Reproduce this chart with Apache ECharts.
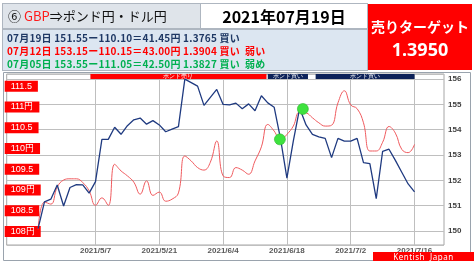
<!DOCTYPE html>
<html><head><meta charset="utf-8">
<script src="https://cdn.jsdelivr.net/npm/echarts@6/dist/echarts.min.js"></script>
<style>
html,body{margin:0;padding:0;width:474px;height:265px;overflow:hidden;background:#fff;font-family:"Noto Sans CJK JP","Noto Sans",sans-serif;}
#chart{position:absolute;left:0;top:0;width:474px;height:265px;}
.abs{position:absolute;box-sizing:border-box;white-space:nowrap;}
.row{position:absolute;left:7px;font-size:10px;font-weight:bold;line-height:13px;letter-spacing:0.2px;white-space:nowrap;}
</style></head><body>
<div id="chart"></div>
<div class="abs" style="left:2px;top:3px;width:199px;height:26px;background:#dfe4ea;border:1px solid #aeb6c0;"></div>
<div class="abs" style="left:8px;top:5px;font-size:13px;line-height:22px;color:#111;">⑥ <span style="color:#ff1a1a;">GBP</span>⇒ポンド円・ドル円</div>
<div class="abs" style="left:200px;top:3px;width:168px;height:26px;background:#fff;border:1px solid #aeb6c0;text-align:center;font-size:16px;font-weight:bold;line-height:24px;color:#000;">2021年07月19日</div>
<div class="abs" style="left:2px;top:29px;width:366px;height:42px;background:#dce6f1;border:1px solid #aeb6c0;"></div>
<div class="row" style="top:31px;color:#1f3864;">07月19日 151.55ー110.10＝41.45円 1.3765 買い</div>
<div class="row" style="top:44px;color:#ff0000;">07月12日 153.15ー110.15＝43.00円 1.3904 買い</div>
<div class="row" style="top:57px;color:#00b050;">07月05日 153.55ー111.05＝42.50円 1.3827 買い</div>
<div class="row" style="top:44px;left:245px;color:#ff0000;">弱い</div>
<div class="row" style="top:57px;left:245px;color:#00b050;">弱め</div>
<div class="abs" style="left:368px;top:4px;width:104px;height:66px;background:#ff0000;color:#fff;text-align:center;font-weight:bold;">
  <div style="font-size:14px;line-height:18px;margin-top:13px;">売りターゲット</div>
  <div style="font-size:18px;line-height:22px;margin-top:3px;font-family:'Noto Sans',sans-serif;">1.3950</div>
</div>
<div class="abs" style="left:373px;top:252px;width:101px;height:9px;background:#ff0000;color:#fff;font-size:8px;line-height:9px;text-align:center;font-family:'Noto Sans',sans-serif;letter-spacing:0.5px;">Kentish&nbsp;&nbsp;Japan</div>
<script>
const dates = [
 '2021/4/26','2021/4/27','2021/4/28','2021/4/29','2021/4/30',
 '2021/5/3','2021/5/4','2021/5/5','2021/5/6','2021/5/7',
 '2021/5/10','2021/5/11','2021/5/12','2021/5/13','2021/5/14',
 '2021/5/17','2021/5/18','2021/5/19','2021/5/20','2021/5/21',
 '2021/5/24','2021/5/25','2021/5/26','2021/5/27','2021/5/28',
 '2021/5/31','2021/6/1','2021/6/2','2021/6/3','2021/6/4',
 '2021/6/7','2021/6/8','2021/6/9','2021/6/10','2021/6/11',
 '2021/6/14','2021/6/15','2021/6/16','2021/6/17','2021/6/18',
 '2021/6/21','2021/6/22','2021/6/23','2021/6/24','2021/6/25',
 '2021/6/28','2021/6/29','2021/6/30','2021/7/1','2021/7/2',
 '2021/7/5','2021/7/6','2021/7/7','2021/7/8','2021/7/9',
 '2021/7/12','2021/7/13','2021/7/14','2021/7/15','2021/7/16'
];
// GBP/JPY (right axis, navy line)
const gbpjpy = [
 150.10,151.15,151.26,151.82,150.99,151.72,151.83,151.82,151.50,151.95,
 153.62,153.62,154.10,153.82,154.16,154.39,154.46,154.22,154.36,154.19,
 153.92,154.02,154.12,156.00,155.86,155.72,154.96,155.28,155.59,155.00,
 154.98,155.05,154.83,155.02,154.75,155.34,155.06,154.89,153.64,152.09,
 153.55,154.85,154.19,153.82,153.72,153.66,152.90,153.66,153.55,153.55,
 153.66,152.70,152.66,151.28,153.15,153.23,152.79,152.32,151.86,151.55
];
// USD/JPY (left labels, red line)
const usdjpy = [
 108.05,108.71,108.66,109.07,109.24,109.27,109.27,109.18,108.98,108.63,
 108.81,108.63,109.62,109.46,109.34,109.19,108.90,109.22,108.87,108.95,
 108.73,108.78,108.93,109.82,109.70,109.54,109.48,109.67,110.18,109.34,
 109.30,109.54,109.48,109.38,109.70,110.04,110.58,110.42,110.20,110.34,
 110.54,110.88,110.86,110.74,110.62,110.54,110.56,111.10,111.39,111.05,
 110.96,110.62,109.94,109.94,110.15,110.53,110.37,109.98,109.90,110.10
];
const xTickIdx = [9, 19, 29, 39, 49, 59];
const crossDots = [[37.9, 153.62], [41.5, 154.82]];
const bandSell = [{name: 'ポンド売り', from: 8.2, to: 35.8}];
const bandBuy = [{name: 'ポンド買い', from: 36.0, to: 42.3}, {name: 'ポンド買い', from: 43.5, to: 59.0}];

const chart = echarts.init(document.getElementById('chart'), null, {renderer: 'canvas'});
const bandItem = (b, color) => [
  {xAxis: b.from, yAxis: 156, name: b.name, itemStyle: {color: color, opacity: 1},
   label: {show: true, position: 'inside', color: '#fff', fontSize: 6, formatter: b.name}},
  {xAxis: b.to, yAxis: 156.2}
];
chart.setOption({
  animation: false,
  graphic: [{type: 'rect', shape: {x: 3.5, y: 72.5, width: 467, height: 188}, style: {fill: 'none', stroke: '#9aa3ad', lineWidth: 1}, z: -1}],
  grid: {left: 6.7, right: 30, top: 74, bottom: 20, show: true, borderColor: '#a6a6a6', borderWidth: 1, containLabel: false},
  xAxis: {
    type: 'value', min: -4.92, max: 63.62,
    axisLine: {show: false},
    axisTick: {show: false, customValues: xTickIdx},
    axisLabel: {customValues: xTickIdx, formatter: v => dates[Math.round(v)] || '', fontSize: 8, fontWeight: 'bold', color: '#595959', margin: 2},
    splitLine: {show: true, lineStyle: {color: '#bfbfbf', width: 1}}
  },
  yAxis: [
    {type: 'value', position: 'left', min: 107.675, max: 111.795, splitNumber: 8,
     axisLine: {show: false}, axisTick: {show: false}, splitLine: {show: false},
     axisLabel: {inside: true, margin: -2, showMinLabel: false, showMaxLabel: false,
       formatter: v => (Math.abs(v - Math.round(v)) < 1e-6 ? Math.round(v) + '円' : v.toFixed(1)),
       color: '#fff', backgroundColor: '#ff0000', fontSize: 9, lineHeight: 11, padding: [0, 6, 0, 6], z: 10}},
    {type: 'value', position: 'right', min: 149.45, max: 156.2, splitNumber: 7,
     axisLine: {show: false}, axisTick: {show: false},
     splitLine: {show: true, lineStyle: {color: '#bfbfbf', width: 1}},
     axisLabel: {showMinLabel: false, showMaxLabel: false, fontSize: 8, fontWeight: 'bold', color: '#404040', margin: 4}}
  ],
  series: [
    {type: 'line', name: 'USD/JPY', yAxisIndex: 0, data: usdjpy.map((v, i) => [i, v]), smooth: 0.45,
     showSymbol: false, lineStyle: {color: '#ef5a5e', width: 1}, z: 3},
    {type: 'line', name: 'GBP/JPY', yAxisIndex: 1, data: gbpjpy.map((v, i) => [i, v]),
     showSymbol: false, lineStyle: {color: '#1f3a80', width: 1.3}, z: 4},
    {type: 'scatter', yAxisIndex: 1, data: crossDots, symbolSize: 11,
     itemStyle: {color: '#3ee23e', borderColor: '#2bb52b', borderWidth: 0.6, opacity: 1}, z: 6,
     markArea: {silent: true, data: bandSell.map(b => bandItem(b, '#ff0000')).concat(bandBuy.map(b => bandItem(b, '#0d2259')))}}
  ]
});
</script>
</body></html>
